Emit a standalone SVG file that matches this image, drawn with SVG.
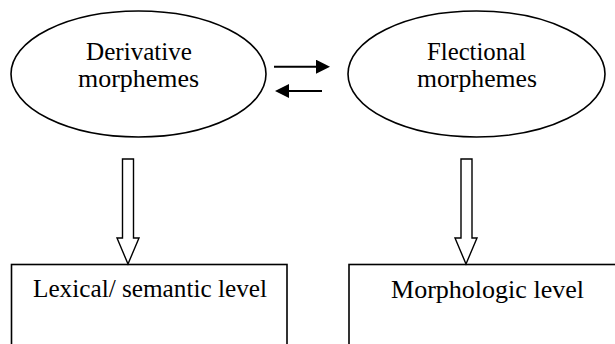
<svg xmlns="http://www.w3.org/2000/svg" width="615" height="344" viewBox="0 0 615 344">
<defs>
<style>
.shape{fill:#fff;stroke:#000;stroke-width:1.6}
.t{font-family:"Liberation Serif","Times New Roman",serif;font-size:25px;fill:#000;text-anchor:middle}
.ln{stroke:#000;stroke-width:2;fill:none}
.blk{fill:#fff;stroke:#000;stroke-width:1.4;stroke-linejoin:miter}
</style>
<marker id="ah" viewBox="0 0 14 14" refX="0" refY="7" markerWidth="14" markerHeight="14" markerUnits="userSpaceOnUse" orient="auto">
<path d="M0,0 L14,7 L0,14 z" fill="#000"/>
</marker>
</defs>
<rect width="615" height="344" fill="#fff"/>
<g id="derivative">
<ellipse class="shape" cx="138.5" cy="74" rx="127.5" ry="63"/>
<text class="t" x="139" y="60" textLength="106" lengthAdjust="spacingAndGlyphs">Derivative</text>
<text class="t" x="138.5" y="87" textLength="121" lengthAdjust="spacingAndGlyphs">morphemes</text>
</g>
<g id="flectional">
<ellipse class="shape" cx="476.5" cy="74" rx="128.5" ry="63"/>
<text class="t" x="476.5" y="60" textLength="99" lengthAdjust="spacingAndGlyphs">Flectional</text>
<text class="t" x="477" y="87" textLength="120" lengthAdjust="spacingAndGlyphs">morphemes</text>
</g>
<g id="lexical">
<rect class="shape" x="11.5" y="264.5" width="275.5" height="100"/>
<text class="t" x="150" y="297" textLength="234" lengthAdjust="spacingAndGlyphs">Lexical/ semantic level</text>
</g>
<g id="morphologic">
<rect class="shape" x="349" y="264.5" width="300" height="100"/>
<text class="t" x="487.5" y="298" textLength="193" lengthAdjust="spacingAndGlyphs">Morphologic level</text>
</g>
<g id="connectors">
<line class="ln" x1="274" y1="66.7" x2="316" y2="66.7" marker-end="url(#ah)"/>
<line class="ln" x1="322" y1="91" x2="289" y2="91" marker-end="url(#ah)"/>
<path class="blk" d="M122.5,159 H133.5 V238 H139 L128,264 L117,238 H122.5 Z"/>
<path class="blk" d="M461,159 H472 V238 H477 L466,264 L455,238 H461 Z"/>
</g>
</svg>
